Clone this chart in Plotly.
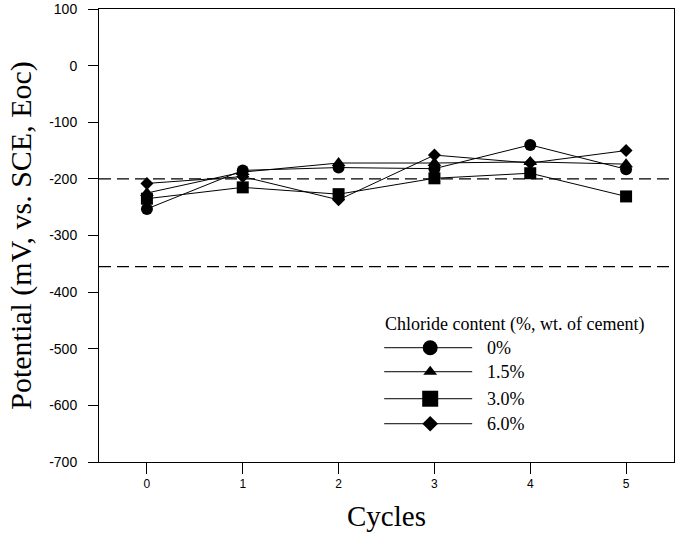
import plotly.graph_objects as go

cycles = [0, 1, 2, 3, 4, 5]
series_names = ["0%", "1.5%", "3.0%", "6.0%"]
pot_0 = [-253, -185, -180, -182, -140, -183]
pot_15 = [-225, -188, -172, -172, -170, -174]
pot_30 = [-235, -215, -227, -199, -190, -231]
pot_60 = [-208, -196, -237, -158, -172, -150]
series_values = [pot_0, pot_15, pot_30, pot_60]
symbols = ["circle", "triangle-up", "square", "diamond"]
marker_sizes = [12, 12, 12, 10]
legend_marker_sizes = [15, 12, 16, 12]
thresholds = [-200, -355]
y_ticks = [100, 0, -100, -200, -300, -400, -500, -600, -700]
y_tick_text = ["100", "0", "-100", "-200", "-300", "-400", "-500", "-600", "-700"]
legend_title = "Chloride content (%, wt. of cement)"

fig = go.Figure()

for name, vals, sym, ms in zip(series_names, series_values, symbols, marker_sizes):
    fig.add_trace(go.Scatter(
        x=cycles, y=vals, mode="lines+markers", name=name,
        line=dict(color="#000000", width=1),
        marker=dict(symbol=sym, size=ms, color="#000000", opacity=1, line=dict(width=0)),
        showlegend=False, opacity=1,
    ))

for t in thresholds:
    fig.add_shape(type="line", xref="paper", x0=0, x1=1, yref="y", y0=t, y1=t,
                  line=dict(color="#000000", width=1.3, dash="12px,6px"), layer="below", opacity=1)

# custom legend drawn on a hidden overlay axis spanning the plot area
leg_x0, leg_xm, leg_x1, leg_lab = 0.496, 0.576, 0.649, 0.671
leg_rows = [0.2523, 0.1993, 0.1397, 0.0845]
for name, sym, ms, yr in zip(series_names, symbols, legend_marker_sizes, leg_rows):
    fig.add_trace(go.Scatter(
        x=[leg_x0, leg_x1], y=[yr, yr], xaxis="x2", yaxis="y2",
        mode="lines", line=dict(color="#000000", width=1),
        showlegend=False, hoverinfo="skip", opacity=1,
    ))
    fig.add_trace(go.Scatter(
        x=[leg_xm], y=[yr], xaxis="x2", yaxis="y2",
        mode="markers",
        marker=dict(symbol=sym, size=ms, color="#000000", opacity=1, line=dict(width=0)),
        showlegend=False, hoverinfo="skip", opacity=1,
    ))
    fig.add_annotation(x=leg_lab, y=yr, xref="x2", yref="y2", text=name,
                       showarrow=False, xanchor="left", yanchor="middle",
                       font=dict(family="Liberation Serif", size=18, color="black"))

fig.add_annotation(x=0.494, y=0.303, xref="x2", yref="y2", text=legend_title,
                   showarrow=False, xanchor="left", yanchor="middle",
                   font=dict(family="Liberation Serif", size=18, color="black"))

fig.update_layout(
    width=683, height=533,
    margin=dict(l=99, r=9, t=9, b=71),
    paper_bgcolor="white", plot_bgcolor="white",
    showlegend=False,
    xaxis=dict(
        range=[-0.5, 5.5], tickvals=cycles, ticktext=[str(c) for c in cycles],
        ticks="outside", ticklen=11, tickwidth=1, tickcolor="black",
        showline=True, linecolor="black", linewidth=1, mirror=True,
        showgrid=False, zeroline=False, automargin=False, ticklabeloverflow="allow",
        tickfont=dict(family="Liberation Sans", size=12, color="black"),
        title=dict(text="Cycles", font=dict(family="Liberation Serif", size=29, color="black"), standoff=15),
    ),
    yaxis=dict(
        range=[-700, 100], tickvals=y_ticks, ticktext=y_tick_text,
        ticks="outside", ticklen=10, tickwidth=1, tickcolor="black",
        showline=True, linecolor="black", linewidth=1, mirror=True,
        showgrid=False, zeroline=False, automargin=False, ticklabelstandoff=8,
        ticklabeloverflow="allow",
        tickfont=dict(family="Liberation Sans", size=14, color="black"),
        title=dict(text="Potential (mV, vs. SCE, Eoc)", font=dict(family="Liberation Serif", size=30, color="black"), standoff=8),
    ),
    xaxis2=dict(range=[0, 1], overlaying="x", visible=False, fixedrange=True, automargin=False),
    yaxis2=dict(range=[0, 1], overlaying="y", visible=False, fixedrange=True, automargin=False),
)

fig.write_html("out.html", config={"displayModeBar": False},
               post_script="document.body.style.margin='0px';document.body.style.overflow='hidden';")
